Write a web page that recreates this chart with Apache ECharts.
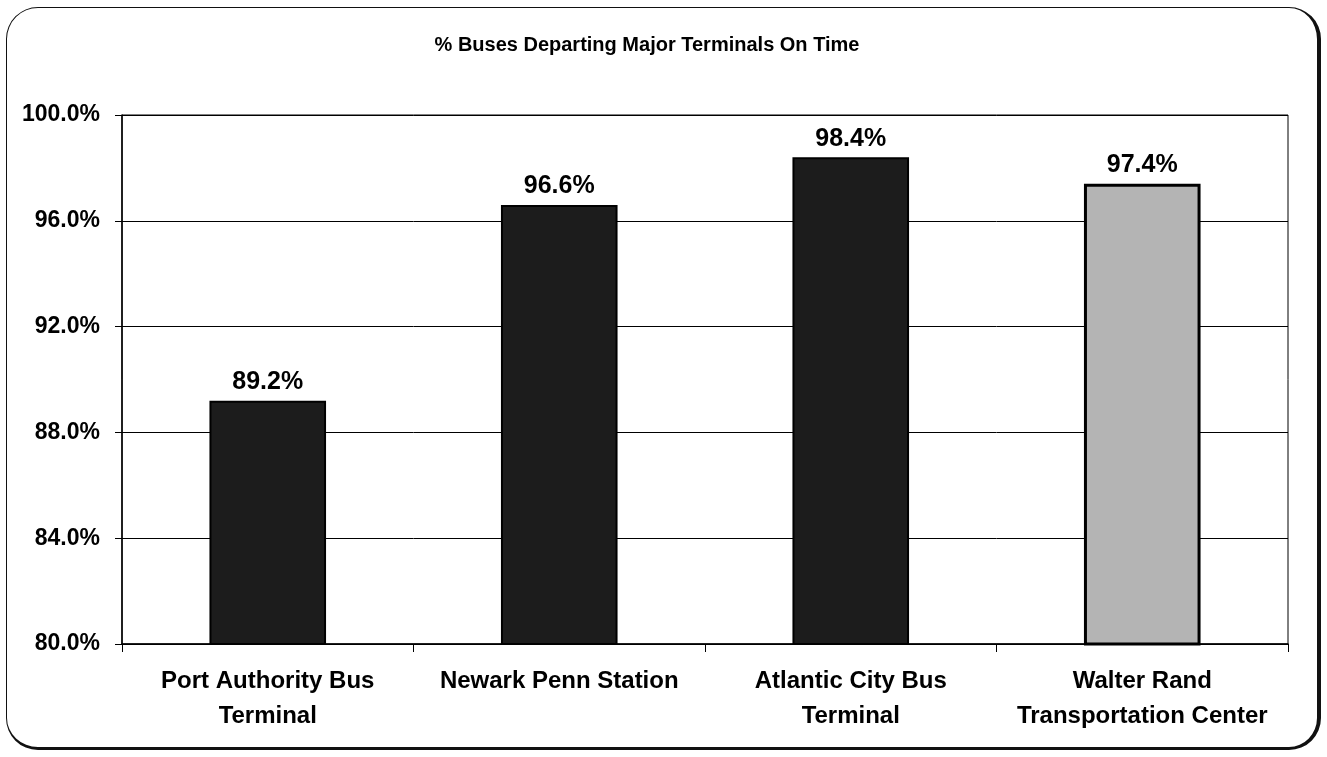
<!DOCTYPE html>
<html>
<head>
<meta charset="utf-8">
<script src="https://cdn.jsdelivr.net/npm/echarts@6/dist/echarts.min.js"></script>
<style>
  html, body { margin: 0; padding: 0; background: #fff; }
  .chart-frame {
    position: absolute;
    left: 6px; top: 7px;
    width: 1315px; height: 743px;
    border: 1px solid #111;
    border-right-width: 4px;
    border-bottom-width: 3px;
    border-radius: 32px;
    box-sizing: border-box;
  }
  #chart { position: absolute; left: 0; top: 0; width: 1327px; height: 757px; }
</style>
</head>
<body>
<div class="chart-frame"></div>
<div id="chart"></div>
<script>
const title = '% Buses Departing Major Terminals On Time'
const categories = ['Port Authority Bus\nTerminal', 'Newark Penn Station', 'Atlantic City Bus\nTerminal', 'Walter Rand\nTransportation Center']
const onTime = [89.2, 96.6, 98.4, 97.4]
const yTicks = { min: 80, max: 100, interval: 4 }

// styling only
const barFill = ['#1c1c1c', '#1c1c1c', '#1c1c1c', '#b4b4b4']

const chart = echarts.init(document.getElementById('chart'))
const font = '"Liberation Sans", Arial, sans-serif'

chart.setOption({
  animation: false,
  title: {
    text: title,
    left: 642,
    top: 30,
    textAlign: 'center',
    textStyle: { fontFamily: font, fontSize: 20, fontWeight: 'bold', color: '#000' }
  },
  grid: {
    left: 122, right: 39, top: 115, bottom: 113,
    show: true, borderColor: '#000', borderWidth: 1
  },
  xAxis: {
    type: 'category',
    data: categories,
    axisLine: { lineStyle: { color: '#000', width: 1.5 } },
    axisTick: { show: true, length: 8, lineStyle: { color: '#000' } },
    axisLabel: {
      fontFamily: font, fontSize: 24, fontWeight: 'bold', color: '#000',
      margin: 20, lineHeight: 35, interval: 0
    }
  },
  yAxis: {
    type: 'value',
    min: yTicks.min, max: yTicks.max, interval: yTicks.interval,
    axisLine: { show: true, lineStyle: { color: '#000', width: 1.5 } },
    axisTick: { show: true, length: 7, lineStyle: { color: '#000' } },
    splitLine: { lineStyle: { color: '#000', width: 1 } },
    axisLabel: {
      fontFamily: font, fontSize: 23, fontWeight: 'bold', color: '#000', margin: 22,
      formatter: v => v.toFixed(1) + '%'
    }
  },
  series: [{
    type: 'bar',
    barWidth: '40%',
    data: onTime.map((v, i) => ({
      value: v,
      itemStyle: { color: barFill[i], borderColor: '#000', borderWidth: i === 3 ? 3 : 2 }
    })),
    label: {
      show: true, position: 'top', distance: 6,
      fontFamily: font, fontSize: 25, fontWeight: 'bold', color: '#000',
      formatter: p => p.value.toFixed(1) + '%'
    }
  }]
})
</script>
</body>
</html>
